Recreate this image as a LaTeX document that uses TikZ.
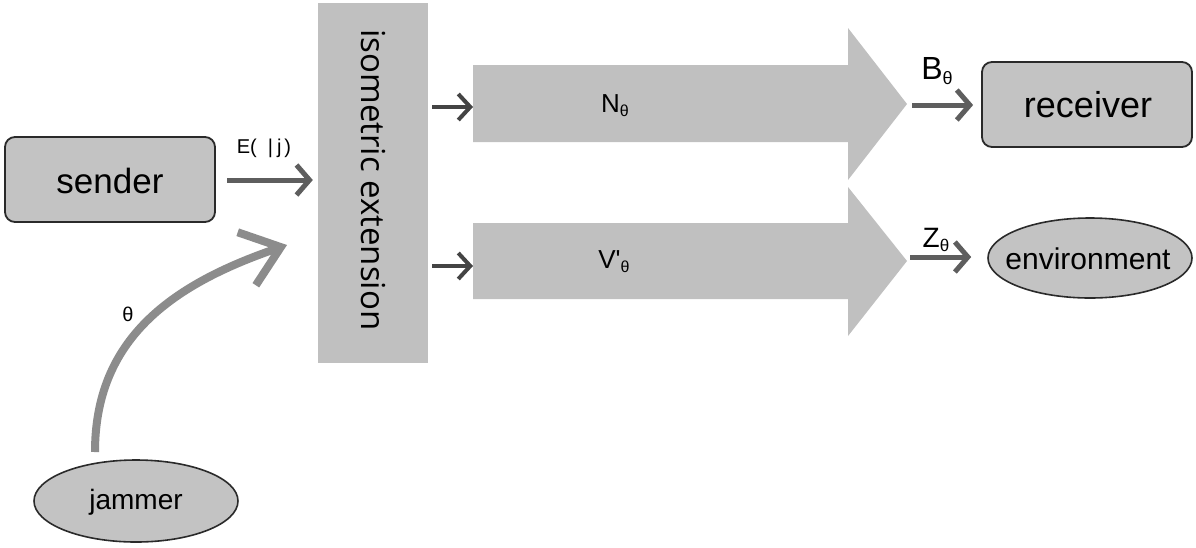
\documentclass[tikz,border=0pt]{standalone}
\usepackage{fontspec}
\setmainfont{Liberation Sans}
\newfontfamily\isofont{Open Sans}
\usetikzlibrary{arrows.meta,shapes.geometric}
\definecolor{boxgray}{HTML}{C3C3C3}
\definecolor{bandgray}{HTML}{C0C0C0}
\definecolor{edgegray}{HTML}{2A2A2A}
\definecolor{arrgray}{HTML}{5E5E5E}
\definecolor{darkarr}{HTML}{444444}
\definecolor{curvegray}{HTML}{8C8C8C}
\newcommand{\fs}[1]{\fontsize{#1}{#1}\selectfont}
\newcommand{\subth}[1]{{\fs{#1}\raisebox{-0.25em}{θ}}}
\tikzset{
  roundbox/.style={draw=edgegray, line width=1.8pt, fill=boxgray, rounded corners=10pt, inner sep=0pt},
  ovalbox/.style={draw=edgegray, line width=1.6pt, fill=boxgray, ellipse, inner sep=0pt},
  smallarrow/.style={draw=arrgray, line width=5pt, -{Straight Barb[length=13pt,width=30pt,line width=5pt]}},
  tinyarrow/.style={draw=darkarr, line width=4pt, -{Straight Barb[length=12pt,width=26pt,line width=4pt]}},
  bigarrow/.style={fill=bandgray, draw=none},
  lbl/.style={inner sep=0pt, anchor=center},
}
\begin{document}
\begin{tikzpicture}[x=1pt,y=-1pt]
\useasboundingbox (0,0) rectangle (1196,547);
\fill[white] (0,0) rectangle (1196,547);

% isometric extension block
\node[fill=bandgray, minimum width=110pt, minimum height=360pt, inner sep=0pt] (iso) at (373,183) {};
\node[lbl, rotate=-90] (isotext) at (373,180) {\isofont\fs{33}isometric extension};

% sender
\node[roundbox, minimum width=210pt, minimum height=85pt] (sender) at (110,179.5) {};
\node[lbl] (sendertext) at (110,181) {\fs{35}sender};

% jammer
\node[ovalbox, minimum width=204pt, minimum height=82pt] (jammer) at (136,501) {};
\node[lbl] (jammertext) at (136,502) {\fs{28}jammer};

% receiver
\node[roundbox, minimum width=210pt, minimum height=85pt] (receiver) at (1087,104.5) {};
\node[lbl] (receivertext) at (1088,105) {\fs{36}receiver};

% environment
\node[ovalbox, minimum width=204pt, minimum height=80pt] (environment) at (1090,258) {};
\node[lbl] (envtext) at (1088,259) {\fs{30}environment};

% big arrows
\coordinate (Ntail) at (473,104);
\coordinate (Ntip) at (907,104);
\coordinate (Vtail) at (473,261);
\coordinate (Vtip) at (907,261);
\fill[bigarrow] (473,65) -- (848,65) -- (848,28) -- (Ntip) -- (848,180) -- (848,142) -- (473,142) -- cycle;
\fill[bigarrow] (473,223) -- (848,223) -- (848,187) -- (Vtip) -- (848,336) -- (848,299) -- (473,299) -- cycle;
\node[lbl] (Nlabel) at (615,106) {\fs{26}N\subth{16}};
\node[lbl] (Vlabel) at (614,262) {\fs{26}V\textquotesingle\subth{16}};

% small arrows into big arrows
\coordinate (isoN) at (432,107);
\coordinate (isoV) at (432,266);
\draw[tinyarrow] (isoN) -- (Ntail |- isoN);
\draw[tinyarrow] (isoV) -- (Vtail |- isoV);

% sender -> iso
\coordinate (sendout) at (227,180);
\draw[smallarrow] (sendout) -- ([xshift=-5pt]iso.west |- sendout);
\node[lbl] (Elabel) at (264,148) {\fs{20}E(\hspace{11pt}|\hspace{4pt}j\hspace{3pt})};

% outputs
\coordinate (Bstart) at (912,105);
\coordinate (Zstart) at (910,257);
\draw[smallarrow] (Bstart) -- ([xshift=-8pt]receiver.west |- Bstart);
\draw[smallarrow] (Zstart) -- ([xshift=-16pt]environment.west |- Zstart);
\node[lbl] (Blabel) at (937,71) {\fs{32}B\subth{18}};
\node[lbl] (Zlabel) at (936,240) {\fs{28}Z\subth{17}};

% jammer -> iso curved arrow
\coordinate (jamstart) at (95,452);
\coordinate (jamtip) at (287,245);
\draw[draw=curvegray, line width=8pt, -{Straight Barb[length=36pt,width=56pt,line width=8pt]}]
  (jamstart) .. controls (95,340) and (170,285) .. (jamtip);
\node[lbl] (thetalabel) at (128,314) {\fs{20}θ};
\end{tikzpicture}
\end{document}
